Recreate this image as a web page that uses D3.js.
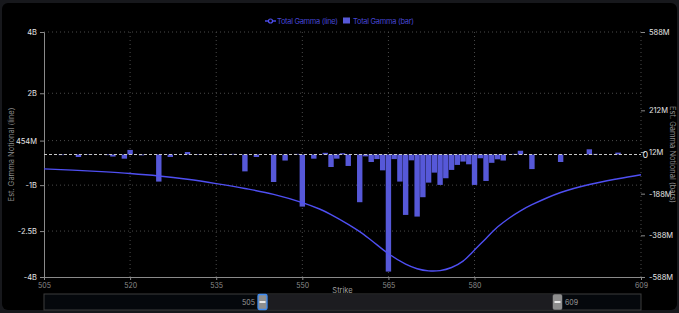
<!DOCTYPE html>
<html>
<head>
<meta charset="utf-8">
<script src="https://cdn.jsdelivr.net/npm/d3@7"></script>
<style>
  body { margin: 0; background: #17181c; }
  svg { display: block; font-family: Inter, "Liberation Sans", sans-serif; }
</style>
</head>
<body>
<div id="chart"></div>
<script>
// line series: est. gamma notional, billions
var lineStrikes = [505, 510, 515, 520, 525, 530, 535, 540, 545, 550, 553, 555, 558, 560, 562, 565,
    568, 570, 572, 574, 576, 578, 580, 582, 584, 586, 588, 590, 595, 600, 605, 609];
var lineGamma = [-0.47, -0.51, -0.56, -0.62, -0.7, -0.81, -0.95, -1.11, -1.3, -1.57, -1.78, -1.96, -2.28, -2.52, -2.8, -3.24,
    -3.58, -3.73, -3.8, -3.79, -3.69, -3.48, -3.12, -2.74, -2.37, -2.08, -1.84, -1.64, -1.24, -0.98, -0.79, -0.66];

// bar series: gamma notional per strike, millions
var barStrikes = [508, 511, 513, 516, 517, 519, 520, 522, 525, 527, 530, 532, 536, 538, 540, 542, 545, 547, 549, 550,
    552, 554, 555, 556, 557, 558, 560, 561, 562, 563, 564, 565, 566, 567, 568, 569, 570, 571, 572, 573, 574,
    575, 576, 577, 578, 579, 580, 581, 582, 583, 584, 585, 587, 588, 590, 595, 600, 601, 605];
var barGamma = [-3, -12, -2, -3, -10, -20, 22, -4, -130, -12, 12, -2, 2, 3, -81, -12, -132, -29, 3, -250,
    -20, 8, -60, -20, 6, -55, -229, -9, -36, -22, -76, -562, -22, -130, -290, -28, -298, -205, -135, -87, -146,
    -114, -74, -50, -34, -47, -146, -18, -127, -40, -23, -29, 3, 18, -70, -36, 25, 3, 9];

var leftTicks = [-4e9, -2.5e9, -1e9, 0.454e9, 2e9, 4e9];
var rightTicks = [-588e6, -388e6, -188e6, 12e6, 212e6, 588e6];
var xTicks = [505, 520, 535, 550, 565, 580, 609];

var W = 679, H = 313;
var margin = { left: 44, right: 38, top: 32, bottom: 36 };
var innerW = W - margin.left - margin.right;
var innerH = H - margin.top - margin.bottom;

var svg = d3.select("#chart").append("svg")
    .attr("width", W)
    .attr("height", H);

svg.append("rect")
    .attr("x", 2).attr("y", 3)
    .attr("width", W - 4).attr("height", H - 6)
    .attr("rx", 6)
    .attr("fill", "#000");

var x = d3.scaleLinear().domain([505, 609]).range([margin.left, margin.left + innerW]);
var yL = d3.scaleLinear().domain([-4e9, 4e9]).range([margin.top + innerH, margin.top]);
var yR = d3.scaleLinear().domain([-588e6, 588e6]).range([margin.top + innerH, margin.top]);

function fmt(v) {
    if (Math.abs(v) >= 1e9) return +(v / 1e9).toFixed(1) + "B";
    return Math.round(v / 1e6) + "M";
}

// grid
svg.append("g").selectAll("line.h")
    .data(leftTicks.slice(1))
    .enter().append("line")
    .attr("x1", margin.left).attr("x2", margin.left + innerW)
    .attr("y1", function(d){ return yL(d); })
    .attr("y2", function(d){ return yL(d); })
    .attr("stroke", "#4a4a4a")
    .attr("stroke-dasharray", "1,3");

svg.append("g").selectAll("line.v")
    .data(xTicks.slice(1))
    .enter().append("line")
    .attr("x1", function(d){ return x(d); })
    .attr("x2", function(d){ return x(d); })
    .attr("y1", margin.top).attr("y2", margin.top + innerH)
    .attr("stroke", "#4a4a4a")
    .attr("stroke-dasharray", "1,3");

// axes
var axisL = svg.append("g")
    .attr("transform", "translate(" + margin.left + ",0)")
    .call(d3.axisLeft(yL).tickValues(leftTicks).tickFormat(fmt).tickSize(4).tickPadding(3));
var axisR = svg.append("g")
    .attr("transform", "translate(" + (margin.left + innerW) + ",0)")
    .call(d3.axisRight(yR).tickValues(rightTicks).tickFormat(fmt).tickSize(4).tickPadding(4));
axisR.select(".domain").remove();
var axisX = svg.append("g")
    .attr("transform", "translate(0," + (margin.top + innerH) + ")")
    .call(d3.axisBottom(x).tickValues(xTicks).tickSize(3).tickPadding(3));

[axisL, axisR, axisX].forEach(function(a){
    a.selectAll(".domain").attr("stroke", "#8a8a8a");
    a.selectAll(".tick line").attr("stroke", "#8a8a8a");
    a.selectAll("text").attr("font-size", "7.5px").attr("fill", "#e6e6e6")
        .attr("font-family", "Inter, 'Liberation Sans', sans-serif");
});
axisX.selectAll("text").attr("fill", "#8c8c8c").attr("font-size", "7px");

// bars
var bw = (x(506) - x(505)) * 0.94;
svg.append("g").selectAll("rect")
    .data(barStrikes)
    .enter().append("rect")
    .attr("x", function(d){ return x(d) - bw / 2; })
    .attr("y", function(d, i){ return Math.min(yR(barGamma[i] * 1e6), yR(0)); })
    .attr("width", bw)
    .attr("height", function(d, i){ return Math.abs(yR(barGamma[i] * 1e6) - yR(0)); })
    .attr("fill", "#5658d8");

// zero line
svg.append("line")
    .attr("x1", margin.left).attr("x2", margin.left + innerW)
    .attr("y1", yR(0)).attr("y2", yR(0))
    .attr("stroke", "#c8c8c8")
    .attr("stroke-dasharray", "3,2");
svg.append("text")
    .attr("x", margin.left + innerW + 1.5)
    .attr("y", yR(0) + 3.5)
    .attr("font-size", "9px")
    .attr("fill", "#e6e6e6")
    .text("0");

// line
var line = d3.line()
    .x(function(d){ return x(d); })
    .y(function(d, i){ return yL(lineGamma[i] * 1e9); })
    .curve(d3.curveCatmullRom.alpha(0.5));
svg.append("path")
    .datum(lineStrikes)
    .attr("d", line)
    .attr("fill", "none")
    .attr("stroke", "#4f4ff2")
    .attr("stroke-width", 1.4);

// axis titles
svg.append("text")
    .attr("transform", "translate(14," + (margin.top + innerH / 2) + ") rotate(-90)")
    .attr("text-anchor", "middle")
    .attr("font-size", "7.5px")
    .attr("fill", "#8c8c8c")
    .text("Est. Gamma Notional (line)");
svg.append("text")
    .attr("transform", "translate(670," + (margin.top + innerH / 2) + ") rotate(90)")
    .attr("text-anchor", "middle")
    .attr("font-size", "7.5px")
    .attr("fill", "#8c8c8c")
    .text("Est. Gamma Notional (bars)");
svg.append("text")
    .attr("x", margin.left + innerW / 2)
    .attr("y", 293)
    .attr("text-anchor", "middle")
    .attr("font-size", "7.5px")
    .attr("fill", "#a0a0a0")
    .text("Strike");

// legend
var lg = svg.append("g").attr("font-size", "7.5px").attr("fill", "#4646d4");
lg.append("line").attr("x1", 265).attr("x2", 276).attr("y1", 21).attr("y2", 21)
    .attr("stroke", "#4f4ff2").attr("stroke-width", 1.4);
lg.append("circle").attr("cx", 270.5).attr("cy", 21).attr("r", 2)
    .attr("fill", "#000").attr("stroke", "#4f4ff2").attr("stroke-width", 1.2);
lg.append("text").attr("x", 277).attr("y", 23.5).attr("textLength", 61).text("Total Gamma (line)");
lg.append("rect").attr("x", 343).attr("y", 17.5).attr("width", 7).attr("height", 6)
    .attr("fill", "#5658d8");
lg.append("text").attr("x", 353).attr("y", 23.5).attr("textLength", 61).text("Total Gamma (bar)");

// data zoom slider
var sl = svg.append("g");
sl.append("rect").attr("x", margin.left).attr("y", 294)
    .attr("width", innerW).attr("height", 16)
    .attr("fill", "#05080c").attr("stroke", "#3c3c3c");
sl.append("rect").attr("x", 262).attr("y", 294.5)
    .attr("width", 296).attr("height", 15)
    .attr("fill", "#1c1c20");
[[258, true], [553, false]].forEach(function(h){
    sl.append("rect").attr("x", h[0]).attr("y", 294.5)
        .attr("width", 9).attr("height", 15).attr("rx", 1.5)
        .attr("fill", "#8e8e8e")
        .attr("stroke", h[1] ? "#3d8bf2" : "#8e8e8e")
        .attr("stroke-width", h[1] ? 1.3 : 0.5);
    sl.append("rect").attr("x", h[0] + 1.5).attr("y", 301)
        .attr("width", 6).attr("height", 2)
        .attr("fill", "#e8e8e8");
});
sl.append("text").attr("x", 255).attr("y", 305)
    .attr("text-anchor", "end").attr("font-size", "7px").attr("fill", "#9a9a9a")
    .text(x.domain()[0]);
sl.append("text").attr("x", 565).attr("y", 305)
    .attr("font-size", "7px").attr("fill", "#9a9a9a")
    .text(x.domain()[1]);
</script>
</body>
</html>
